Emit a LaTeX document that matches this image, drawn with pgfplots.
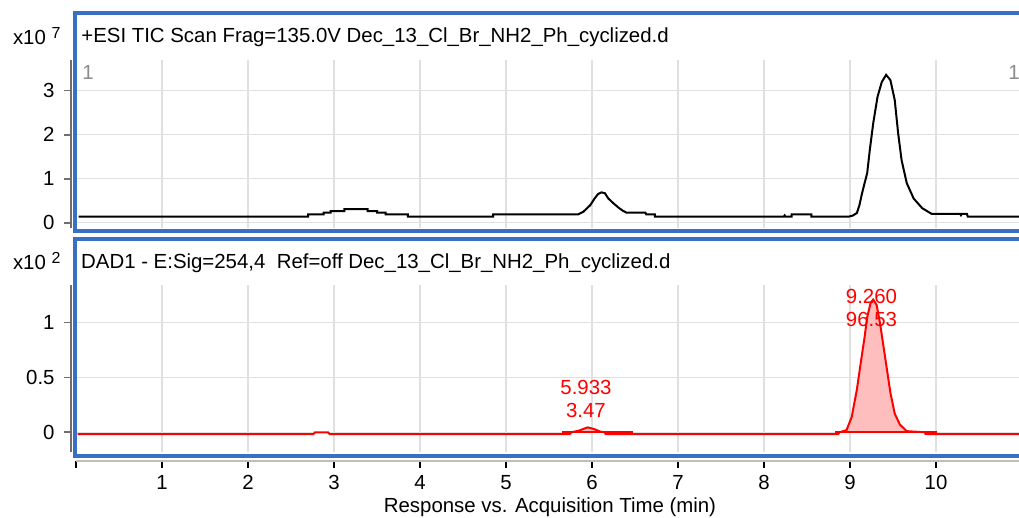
\documentclass[border=0pt]{standalone}
\usepackage{pgfplots}
\pgfplotsset{compat=1.18}
\usepackage{fontspec}
\setmainfont{Liberation Sans}
\newcommand\mf{\fontsize{10.2}{12.2}\selectfont}
\definecolor{frameblue}{RGB}{58,112,196}
\definecolor{gridgray}{RGB}{224,224,224}
\definecolor{axgray}{RGB}{110,110,110}
\definecolor{xaxgray}{RGB}{190,190,190}
\definecolor{peakfill}{RGB}{255,190,190}
\definecolor{labgray}{RGB}{140,140,140}
\pgfplotsset{
  plotpanel/.style={
    scale only axis, width=473pt, xmin=0, xmax=11,
    xtick={1,...,10}, grid=major, major grid style={gridgray, line width=0.75pt},
    axis line style={draw=none}, tick style={draw=none},
    xticklabels={}, yticklabels={},
    anchor=south west,
  },
  yaxpanel/.style={
    scale only axis, width=2pt, xmin=0, xmax=1, axis y line*=left, hide x axis,
    y axis line style={axgray, line width=1pt},
    ytick style={axgray, line width=0.8pt},
    tick align=outside, major tick length=3.5pt,
    anchor=south west, /pgf/number format/assume math mode=true,
    yticklabel style={font=\mf, xshift=-1.2pt},
  },
}
\begin{document}
\begin{tikzpicture}[every node/.append style={font=\mf}]
\useasboundingbox (0,0) rectangle (509.5pt,259pt);
% ---------- top panel (TIC) ----------
\begin{axis}[plotpanel, at={(38pt,145pt)}, height=84.04pt, ymin=-0.12, ymax=3.70, ytick={0,1,2,3}]
\addplot[black, line width=1pt] coordinates {
(0.03,0.136) (2.70,0.136) (2.70,0.19) (2.88,0.19) (2.88,0.227) (2.96,0.227) (2.96,0.266)
(3.12,0.266) (3.12,0.31) (3.39,0.31) (3.39,0.266) (3.50,0.266) (3.50,0.227) (3.60,0.227)
(3.60,0.19) (3.86,0.19) (3.86,0.136) (4.85,0.136) (4.85,0.19) (5.84,0.19) (5.90,0.25)
(5.98,0.40) (6.03,0.55) (6.07,0.65) (6.11,0.69) (6.15,0.67) (6.19,0.55) (6.25,0.44)
(6.31,0.34) (6.36,0.27) (6.40,0.23) (6.62,0.23) (6.63,0.19) (6.73,0.19) (6.73,0.136)
(8.23,0.136) (8.24,0.165) (8.25,0.136) (8.32,0.136) (8.32,0.19) (8.55,0.19) (8.55,0.136)
(8.98,0.136) (9.03,0.16) (9.08,0.22) (9.11,0.40) (9.14,0.67) (9.20,1.13) (9.23,1.65)
(9.27,2.26) (9.32,2.86) (9.37,3.20) (9.42,3.36) (9.47,3.24) (9.52,2.79) (9.56,2.03)
(9.60,1.42) (9.66,0.90) (9.74,0.55) (9.84,0.33) (9.95,0.20) (10.28,0.20) (10.29,0.17)
(10.30,0.20) (10.36,0.20) (10.37,0.136) (11.0,0.136)
};
\end{axis}
\begin{axis}[yaxpanel, at={(35.5pt,145pt)}, height=84.04pt, ymin=-0.12, ymax=3.70, ytick={0,1,2,3}, yticklabels={0,1,2,3}]
\end{axis}
% ---------- bottom panel (DAD) ----------
\begin{axis}[plotpanel, at={(38pt,33pt)}, height=83.5pt, ymin=-0.18, ymax=1.343, ytick={0,0.5,1}]
\addplot[fill=peakfill, draw=none] coordinates {
(8.88,0.0) (8.96,0.02) (9.02,0.14) (9.08,0.39) (9.13,0.66) (9.17,0.87) (9.20,1.05)
(9.24,1.18) (9.27,1.21) (9.31,1.16) (9.35,0.99) (9.39,0.78) (9.43,0.57) (9.47,0.36)
(9.52,0.17) (9.58,0.07) (9.66,0.01) (9.87,0.0)
} -- cycle;
\addplot[fill=peakfill, draw=none] coordinates {
(5.76,0.0) (5.85,0.015) (5.95,0.045) (6.02,0.03) (6.10,0.005) (6.15,0.0)
} -- cycle;
\addplot[red, line width=0.8pt] coordinates {(5.65,0.0) (6.48,0.0)};
\addplot[red, line width=0.8pt] coordinates {(8.83,0.0) (10.01,0.0)};
\addplot[red, line width=1pt] coordinates {
(0.02,-0.018) (2.76,-0.018) (2.78,0.0) (2.93,0.0) (2.95,-0.018) (5.74,-0.018)
(5.76,0.0) (5.85,0.015) (5.95,0.045) (6.02,0.03) (6.10,0.005) (6.15,0.0) (6.16,-0.018)
(8.86,-0.018) (8.88,0.0) (8.96,0.02) (9.02,0.14) (9.08,0.39) (9.13,0.66) (9.17,0.87)
(9.20,1.05) (9.24,1.18) (9.27,1.21) (9.31,1.16) (9.35,0.99) (9.39,0.78) (9.43,0.57)
(9.47,0.36) (9.52,0.17) (9.58,0.07) (9.66,0.01) (9.87,0.0) (9.88,-0.018) (11.0,-0.018)
};
\node[red, inner sep=0] at (axis cs:5.93,0.404) {5.933};
\node[red, inner sep=0] at (axis cs:5.93,0.199) {3.47};
\node[red, inner sep=0] at (axis cs:9.25,1.2425) {9.260};
\node[red, inner sep=0] at (axis cs:9.25,1.024) {96.53};
\end{axis}
\begin{axis}[yaxpanel, at={(35.5pt,33pt)}, height=83.5pt, ymin=-0.18, ymax=1.343, ytick={0,0.5,1}, yticklabels={0,0.5,1}]
\end{axis}
% ---------- x axis ----------
\begin{axis}[scale only axis, width=473pt, height=2pt, xmin=0, xmax=11, ymin=0, ymax=1,
  at={(38pt,28.5pt)}, anchor=south west, hide y axis, axis x line*=bottom,
  x axis line style={xaxgray, line width=1pt},
  xtick={0,...,10}, xticklabels={,1,2,3,4,5,6,7,8,9,10},
  xtick style={black, line width=0.7pt}, tick align=outside, major tick length=3.5pt,
  /pgf/number format/assume math mode=true, xticklabel style={font=\mf}]
\end{axis}
\node at (275pt,5.5pt) {Response vs. Acquisition Time (min)};
% ---------- frames ----------
\draw[frameblue, line width=2pt] (37.5pt,143.5pt) rectangle (520pt,252.25pt);
\draw[frameblue, line width=2pt] (37.5pt,139.5pt) rectangle (520pt,31pt);
% ---------- texts ----------
\node[anchor=base west, inner sep=0] at (40.5pt,237.7pt) {+ESI TIC Scan Frag=135.0V Dec\_13\_Cl\_Br\_NH2\_Ph\_cyclized.d};
\node[anchor=base west, inner sep=0] at (40.4pt,124.8pt) {DAD1 - E:Sig=254,4\ \ Ref=off Dec\_13\_Cl\_Br\_NH2\_Ph\_cyclized.d};
\node[anchor=base west, inner sep=0] at (6.3pt,236.5pt) {x10 \raisebox{3.3pt}{\fontsize{8}{9}\selectfont 7}};
\node[anchor=base west, inner sep=0] at (6.3pt,124pt) {x10 \raisebox{3.3pt}{\fontsize{8}{9}\selectfont 2}};
\node[anchor=base west, inner sep=0, labgray] at (41pt,219pt) {1};
\node[anchor=base west, inner sep=0, labgray] at (504pt,219pt) {1};
\end{tikzpicture}
\end{document}
